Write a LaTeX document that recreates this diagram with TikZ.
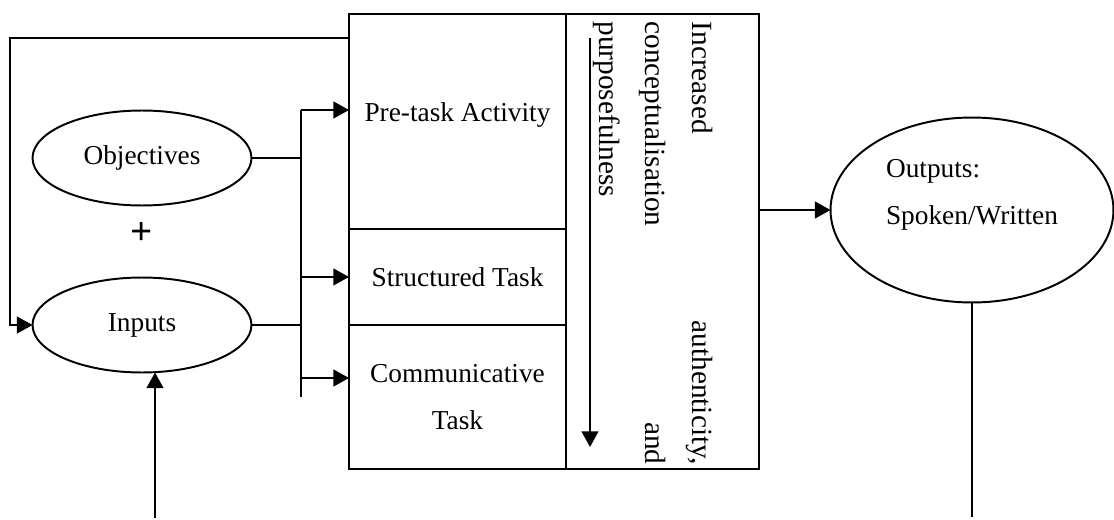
\documentclass[tikz,border=0pt]{standalone}
\usepackage{fontspec}
\setmainfont{Liberation Serif}
\usetikzlibrary{positioning, arrows.meta, shapes.geometric}

\begin{document}
\begin{tikzpicture}[x=0.018cm, y=-0.018cm, line width=1pt,
  font=\fontsize{14}{16}\selectfont,
  cell/.style={rectangle, draw, minimum width=3.906cm, inner sep=0pt, outer sep=0pt, align=center},
  oval/.style={ellipse, draw, inner sep=0pt, outer sep=0pt},
  arrow/.style={-{Triangle[length=0.28cm, width=0.3cm]}}
]
\useasboundingbox (0,0) rectangle (1114,520);

% task sequence box
\node[cell, minimum height=3.87cm, label={[yshift=0.12cm]center:Pre-task Activity}] (pre) at (457.5,121.5) {};
\node[cell, minimum height=1.728cm, below=0pt of pre] (struct) {Structured Task};
\node[cell, minimum height=2.592cm, below=0pt of struct] (comm) {Communicative\\[8pt]Task};
\node[cell, minimum width=3.474cm, minimum height=8.19cm, anchor=north west] (trend) at (pre.north east) {};
\node[rotate=-90, text width=7.97cm, align=left, font=\fontsize{15}{24}\selectfont] (trendtxt) at (653,243)
  {Increased\hfill authenticity,\\conceptualisation\hfill and\\purposefulness};
\coordinate (ttop) at (590,38);
\coordinate (tbot) at (590,447);
\draw[arrow] (ttop) -- (tbot);

% left side
\node[oval, minimum width=3.942cm, minimum height=1.71cm] (objectives) at (142,158) {Objectives};
\node[font=\fontsize{20}{22}\selectfont\bfseries] (plus) at (142,233) {+};
\node[oval, minimum width=3.942cm, minimum height=1.71cm] (inputs) at (142,325) {Inputs};

\coordinate (bustop) at (301,110);
\coordinate (busbot) at (301,397);
\coordinate (commarr) at (301,378);
\draw (objectives.east) -- (objectives.east -| bustop);
\draw (inputs.east) -- (inputs.east -| bustop);
\draw (bustop) -- (busbot);
\draw[arrow] (bustop) -- (bustop -| pre.west);
\draw[arrow] (struct.west -| bustop) -- (struct.west);
\draw[arrow] (commarr) -- (commarr -| comm.west);

% feedback loop
\coordinate (fbcorner) at (10,38);
\draw[arrow] (pre.west |- fbcorner) -- (fbcorner) |- (inputs.west);

\coordinate (inbase) at (155,518);
\draw[arrow] (inbase) -- (inbase |- inputs.south);

% outputs
\node[oval, minimum width=5.094cm, minimum height=3.33cm,
  label={[align=left, yshift=0.27cm]center:Outputs:\\[8pt]Spoken/Written}] (outputs) at (972,210) {};
\draw[arrow] (trend.east |- outputs.west) -- (outputs.west);
\coordinate (outbase) at (972,517);
\draw (outputs.south) -- (outbase);

\end{tikzpicture}
\end{document}
